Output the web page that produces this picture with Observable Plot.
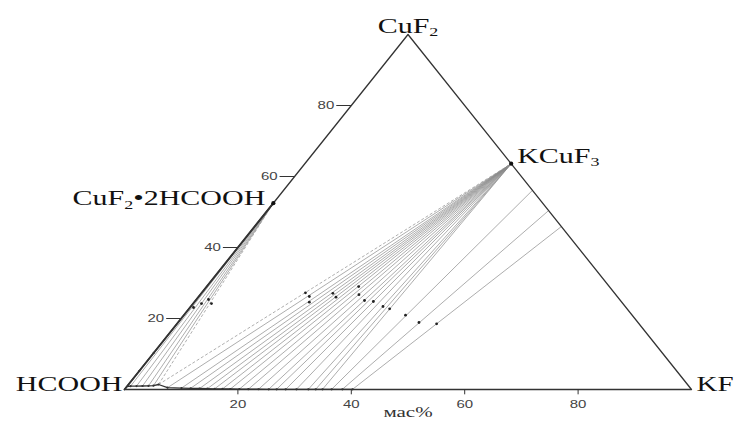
<!DOCTYPE html>
<html>
<head>
<meta charset="utf-8">
<script src="https://cdn.jsdelivr.net/npm/d3@7"></script>
<script src="https://cdn.jsdelivr.net/npm/@observablehq/plot@0.6"></script>
<style>
  html, body { margin: 0; padding: 0; background: #fff; }
</style>
</head>
<body>
<div id="chart"></div>
<script>
// Ternary diagram HCOOH – KF – CuF2 (mass %).
// Every composition is stored as KF % and CuF2 %; HCOOH is the balance.

// Corners of the triangle
const vertexNames = ["HCOOH", "KF", "CuF_2"];
const vertexKF    = [0, 100, 0];
const vertexCuF2  = [0, 0, 100];

// Solid phases
const solidNames = ["KCuF_3", "CuF_2•2HCOOH"];
const solidKF    = [36.4, 0];
const solidCuF2  = [63.6, 52.5];

// Saturated solutions along the solubility curve
// phase: "A" = CuF2·2HCOOH, "B" = KCuF3, "E" = eutonic (both), "C" = extended line, "-" = none
const liquidKF    = [0, 0.60, 1.64, 2.68, 3.72, 4.57, 5.30, 7.33, 9.85, 11.5, 13.1, 14.5, 15.8, 17.2, 18.6, 20.2, 21.8, 23.6, 25.4, 26.8, 28.4, 30.3, 32.4, 33.7, 34.9, 36.5, 38.4, 40.2];
const liquidCuF2  = [0.8, 0.93, 0.96, 0.99, 1.01, 1.07, 1.41, 0.51, 0.39, 0.34, 0.28, 0.23, 0.20, 0.17, 0.14, 0.11, 0.08, 0.07, 0.06, 0.06, 0.05, 0.05, 0.05, 0.05, 0.05, 0.05, 0.05, 0.05];
const liquidPhase = ["-", "A", "A", "A", "A", "A", "E", "B", "B", "B", "B", "B", "B", "B", "B", "B", "B", "B", "B", "B", "B", "B", "B", "B", "B", "C", "C", "C"];

// Far ends of the extended lines, on the KCuF3–KF side
const edgeKF   = [43.9, 49.6, 54.1];
const edgeCuF2 = [56.1, 50.4, 45.9];

// Wet residues
const residueKF   = [0.62, 1.48, 2.14, 3.24, 18.3, 19.5, 20.3, 23.2, 24.3, 26.8, 28.0, 29.8, 31.5, 33.9, 35.4, 39.1, 42.5, 45.8];
const residueCuF2 = [23.1, 24.2, 25.35, 24.2, 27.24, 26.2, 24.6, 27.1, 26.0, 29.0, 26.7, 25.07, 24.79, 23.38, 22.73, 20.93, 18.87, 18.5];

// Points marked on the HCOOH–CuF2 side
const sideCuF2 = [5.2, 10.3];

// Axis ticks
const bottomTicks = [20, 40, 60, 80];
const leftTicks   = [20, 40, 60, 80];
const axisTitle   = "мас%";

// --- tables built from the arrays ---
const P = (kf, cu) => ({kf, cu});
const vertices = vertexNames.map((n, i) => ({name: n, ...P(vertexKF[i], vertexCuF2[i])}));
const solids = solidNames.map((n, i) => ({name: n, ...P(solidKF[i], solidCuF2[i])}));
const [kcuf3, formate] = solids;
const liquids = liquidKF.map((k, i) => ({...P(k, liquidCuF2[i]), phase: liquidPhase[i]}));
const residues = residueKF.map((k, i) => P(k, residueCuF2[i]));
const sidePoints = sideCuF2.map(c => P(0, c));

const ties = [];
let e = 0;
for (const l of liquids) {
  if (l.phase === "A") ties.push({a: l, b: formate, dashed: false});
  if (l.phase === "B") ties.push({a: l, b: kcuf3, dashed: false});
  if (l.phase === "E") { ties.push({a: l, b: formate, dashed: true}); ties.push({a: l, b: kcuf3, dashed: true}); }
  if (l.phase === "C") { ties.push({a: l, b: P(edgeKF[e], edgeCuF2[e]), dashed: false}); e++; }
}

// ternary → cartesian (in % units)
const tx = d => d.kf + d.cu / 2;
const ty = d => d.cu;

const triangle = [...vertices, vertices[0]];
const leftEdgeThick = [vertices[0], P(0, formate.cu)];
const tickLen = 2.65;

const serif = "'Liberation Serif', 'Times New Roman', serif";
const sans = "'Liberation Sans', Arial, sans-serif";

const chart = Plot.plot({
  width: 734,
  height: 421,
  marginTop: 0, marginRight: 0, marginBottom: 0, marginLeft: 0,
  x: {domain: [0, 100], range: [124, 691], axis: null},
  y: {domain: [0, 100], range: [389, 34], axis: null},
  style: {background: "#fff", overflow: "visible"},
  marks: [
    // tie lines
    Plot.link(ties.filter(t => !t.dashed), {
      x1: t => tx(t.a), y1: t => ty(t.a), x2: t => tx(t.b), y2: t => ty(t.b),
      stroke: "#8a8a8a", strokeWidth: 0.7
    }),
    Plot.link(ties.filter(t => t.dashed), {
      x1: t => tx(t.a), y1: t => ty(t.a), x2: t => tx(t.b), y2: t => ty(t.b),
      stroke: "#9a9a9a", strokeWidth: 0.8, strokeDasharray: "3,2"
    }),
    // triangle
    Plot.line(triangle, {x: tx, y: ty, stroke: "#333", strokeWidth: 1.3}),
    Plot.line(leftEdgeThick, {x: tx, y: ty, stroke: "#333", strokeWidth: 1.9}),
    // solubility curve
    Plot.line(liquids, {x: tx, y: ty, stroke: "#333", strokeWidth: 1.3}),
    Plot.dot(liquids.slice(1), {x: tx, y: ty, r: 1.1, fill: "#333"}),
    // residues and marked points
    Plot.dot(residues, {x: tx, y: ty, r: 1.4, fill: "#222"}),
    Plot.dot(sidePoints, {x: tx, y: ty, r: 1.1, fill: "#333"}),
    Plot.dot(solids, {x: tx, y: ty, r: 2.1, fill: "#111"}),
    // bottom axis
    Plot.ruleX(bottomTicks, {x: d => d, y1: 0, y2: -1.5, stroke: "#333", strokeWidth: 1}),
    Plot.text(bottomTicks, {x: d => d, y: 0, text: d => String(d), dy: 18, lineAnchor: "bottom",
      fontFamily: sans, fontSize: 15, fill: "#444"}),
    Plot.text([axisTitle], {x: 50, y: 0, text: d => d, dy: 27, lineAnchor: "bottom",
      fontFamily: serif, fontSize: 21, fill: "#333"}),
    // left axis (CuF2)
    Plot.link(leftTicks, {x1: d => d / 2 - tickLen, x2: d => d / 2, y1: d => d, y2: d => d, stroke: "#333", strokeWidth: 1}),
    Plot.text(leftTicks, {x: d => d / 2 - tickLen, y: d => d, text: d => String(d), textAnchor: "end", dx: -2,
      lineAnchor: "middle", fontFamily: sans, fontSize: 15, fill: "#444"}),
    // corner labels
    Plot.text([vertices[0]], {x: tx, y: ty, text: "name", textAnchor: "end", dx: -2, dy: 1, lineAnchor: "bottom",
      fontFamily: serif, fontSize: 30, fill: "#111"}),
    Plot.text([vertices[1]], {x: tx, y: ty, text: "name", textAnchor: "start", dx: 5, dy: 1, lineAnchor: "bottom",
      fontFamily: serif, fontSize: 29, fill: "#111"}),
    Plot.text([vertices[2]], {x: tx, y: ty, text: "name", textAnchor: "middle", dy: -2, lineAnchor: "bottom",
      fontFamily: serif, fontSize: 30, fill: "#111"}),
    // solid phase labels
    Plot.text([kcuf3], {x: tx, y: ty, text: "name", textAnchor: "start", dx: 6, dy: -1, lineAnchor: "bottom",
      fontFamily: serif, fontSize: 30, fill: "#111"}),
    Plot.text([formate], {x: tx, y: ty, text: "name", textAnchor: "end", dx: -8, dy: 2, lineAnchor: "bottom",
      fontFamily: serif, fontSize: 30, fill: "#111"})
  ]
});

// Chemical subscripts: "_n" becomes a lowered, smaller digit
d3.select(chart).selectAll("text").each(function () {
  const s = this.textContent;
  if (!s.includes("_")) return;
  const parts = s.split(/_(\d)/);
  this.textContent = "";
  parts.forEach((p, i) => {
    if (!p) return;
    const ts = d3.select(this).append("tspan").text(p);
    if (i % 2) ts.attr("font-size", "60%").attr("dy", 5);
    else if (i > 0) ts.attr("dy", -5);
  });
});

// Lettering is drawn vertically compressed, like the triangle itself
d3.select(chart).selectAll("text").each(function () {
  const t = this.getAttribute("transform");
  if (t) this.setAttribute("transform", t + " scale(1,0.72)");
});

document.getElementById("chart").appendChild(chart);
</script>
</body>
</html>
